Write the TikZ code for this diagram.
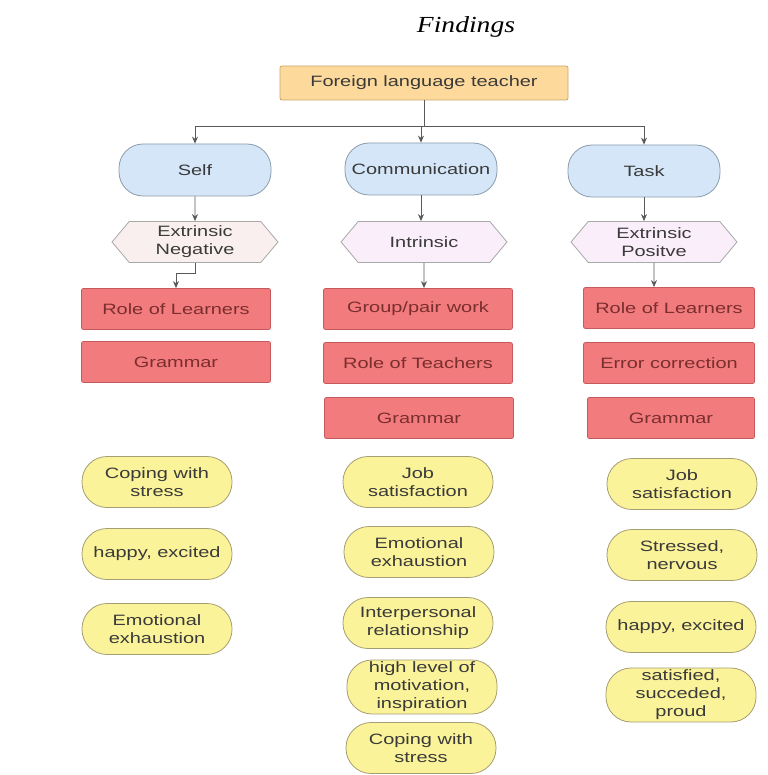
\documentclass[tikz,border=0pt]{standalone}
\usepackage{fontspec}
\setmainfont{Liberation Sans}[FakeStretch=1.33]
\newfontfamily\titlefont{Liberation Serif}[FakeStretch=1.2]
\usetikzlibrary{shapes.symbols,arrows.meta}
\definecolor{topfill}{HTML}{FDD99B}
\definecolor{topline}{HTML}{C9A66B}
\definecolor{bluefill}{HTML}{D4E6F8}
\definecolor{blueline}{HTML}{8C9BAA}
\definecolor{negfill}{HTML}{FAEFEF}
\definecolor{intfill}{HTML}{F9EEF9}
\definecolor{hexline}{HTML}{A9A9A9}
\definecolor{redfill}{HTML}{F27B7E}
\definecolor{redline}{HTML}{C45A5C}
\definecolor{redtext}{HTML}{7A2E2E}
\definecolor{yelfill}{HTML}{FBF39A}
\definecolor{yelline}{HTML}{A69E73}
\definecolor{linegray}{HTML}{5A5A5A}
\definecolor{txt}{HTML}{3A3A3A}
\begin{document}
\begin{tikzpicture}[x=1pt,y=-1pt,
    every node/.style={font=\fontsize{15}{18}\selectfont,text=txt,align=center,inner sep=0pt,line width=0.8pt},
    topbox/.style={draw=topline,fill=topfill,rounded corners=2pt,minimum width=288pt,minimum height=34pt},
    pill/.style={draw=blueline,fill=bluefill,rounded corners=24pt,minimum width=152pt,minimum height=52pt},
    hexbox/.style={shape=signal,signal to=east and west,signal pointer angle=100,draw=hexline,minimum width=166pt,minimum height=41pt},
    redbox/.style={draw=redline,fill=redfill,text=redtext,rounded corners=2pt,minimum width=189pt,minimum height=41pt},
    yelpill/.style={draw=yelline,fill=yelfill,rounded corners=25pt,minimum width=150pt,minimum height=51pt,inner ysep=2pt},
    conn/.style={draw=linegray,line width=0.8pt,-{Stealth[length=7pt,width=6pt]}}]
  \fill[white](0,0)rectangle(767,775);
  \useasboundingbox(0,0)rectangle(767,775);
  \node[font=\titlefont\itshape\fontsize{23}{26}\selectfont,text=black,anchor=base](title)at(466,33){Findings};
  \node[topbox](top)at(424,83){Foreign language teacher};
  % three groups
  \node[pill](self)at(195,170){Self};
  \node[pill](comm)at(421,169){Communication};
  \node[pill](task)at(644,171){Task};
  \coordinate(split)at(424,126);
  \draw[conn](top)--(split)-|(self);
  \draw[conn](split)-|(comm);
  \draw[conn](split)-|(task);
  \node[hexbox,fill=negfill](neg)at(195,242){Extrinsic\\Negative};
  \node[hexbox,fill=intfill](intr)at(424,242){Intrinsic};
  \node[hexbox,fill=intfill](pos)at(654,242){Extrinsic\\Positve};
  \draw[conn](self)--(neg);
  \draw[conn](comm)--(comm|-intr.north);
  \draw[conn](task)--(task|-pos.north);
  % factors
  \node[redbox](rolel)at(176,309){Role of Learners};
  \node[redbox](gramml)at(176,362){Grammar};
  \node[redbox](group)at(418,309){Group/pair work};
  \node[redbox](roleteach)at(418,363){Role of Teachers};
  \node[redbox](grammm)at(419,418){Grammar};
  \node[redbox,minimum width=171pt](rolelr)at(669,308){Role of Learners};
  \node[redbox,minimum width=171pt](error)at(669,363){Error correction};
  \node[redbox,minimum width=167pt](grammr)at(671,418){Grammar};
  \draw[conn](neg.south)--++(0,10)-|(rolel);
  \draw[conn](intr)--(intr|-group.north);
  \draw[conn](pos)--(pos|-rolelr.north);
  % emotions
  \foreach \n/\x/\y/\t in{ea/157/482/{Coping with\\stress},eb/157/554/{happy, excited},ec/157/629/{Emotional\\exhaustion},
      ed/418/482/{Job\\satisfaction},ee/419/552/{Emotional\\exhaustion},ef/418/623/{Interpersonal\\relationship},
      eg/422/687/{high level of\\motivation,\\inspiration},eh/421/748/{Coping with\\stress},
      ei/682/484/{Job\\satisfaction},ej/682/555/{Stressed,\\nervous},ek/681/627/{happy, excited},el/681/695/{satisfied,\\succeded,\\proud}}{
    \node[yelpill](\n)at(\x,\y){\t};
  }
\end{tikzpicture}
\end{document}
